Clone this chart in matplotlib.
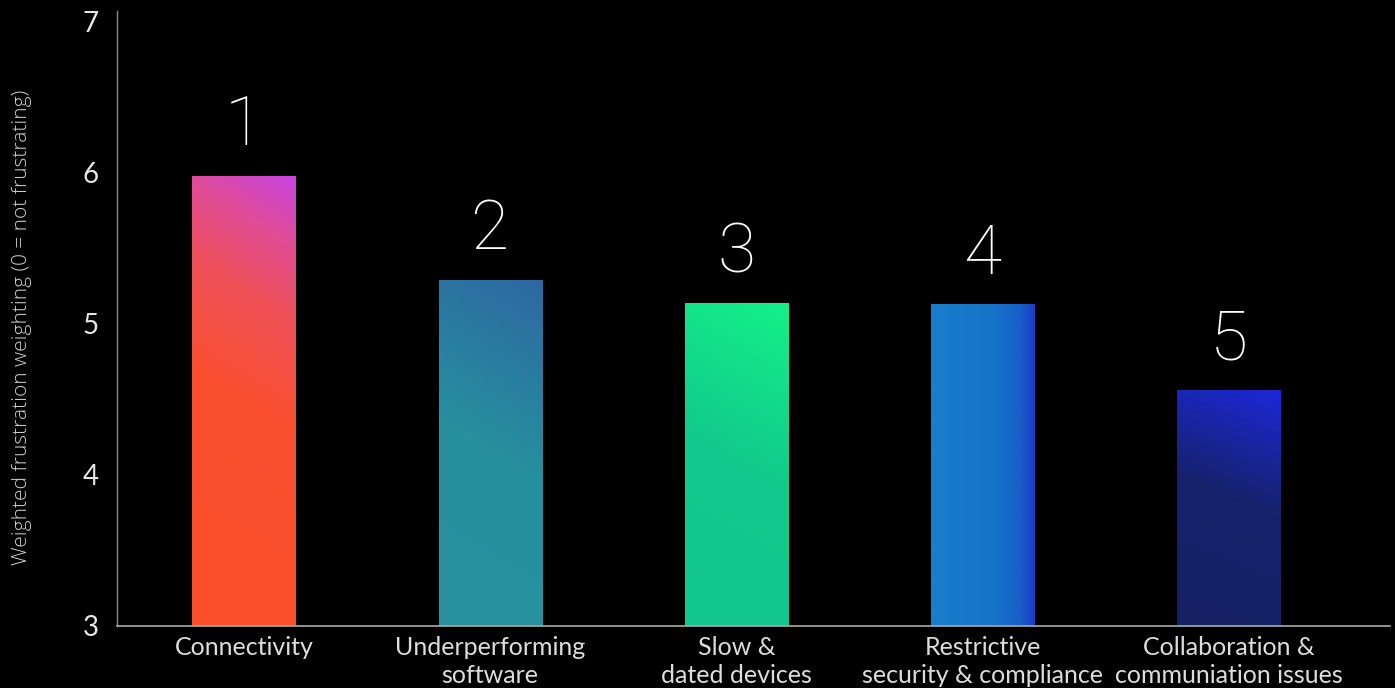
import numpy as np
import matplotlib.pyplot as plt
from matplotlib.colors import LinearSegmentedColormap

# Chart data
categories = ["Connectivity", "Underperforming\nsoftware", "Slow &\ndated devices",
              "Restrictive\nsecurity & compliance", "Collaboration &\ncommuniation issues"]
values = [5.98, 5.29, 5.14, 5.13, 4.56]
ranks = [1, 2, 3, 4, 5]
yticks = [3, 4, 5, 6, 7]
ylabel = "Weighted frustration weighting (0 = not frustrating)"

# Gradient styles per bar: (stops, weight of vertical, weight of horizontal)
gradients = [
    ([(0.0, "#fd512c"), (0.5, "#fb5030"), (0.72, "#ee5058"), (0.87, "#e04c98"), (1.0, "#c845e2")], 0.88, 0.12),
    ([(0.0, "#27929e"), (0.5, "#27909e"), (1.0, "#2d68a2")], 0.85, 0.15),
    ([(0.0, "#12c68e"), (0.5, "#12c98d"), (1.0, "#14f088")], 0.85, 0.15),
    ([(0.0, "#1a7ecc"), (0.6, "#1673c8"), (0.85, "#1662c8"), (1.0, "#1c3ec8")], 0.0, 1.0),
    ([(0.0, "#152163"), (0.55, "#16226c"), (1.0, "#1c28d8")], 0.85, 0.15),
]

plt.rcParams['font.family'] = ['Lato', 'DejaVu Sans']

fig = plt.figure(figsize=(13.95, 6.88), dpi=100, facecolor='black')
ax = fig.add_axes([117 / 1395, 1 - 626 / 688, 1273 / 1395, 615 / 688])
ax.set_facecolor('black')

x = np.arange(len(categories))
width = 0.42
bars = ax.bar(x, values, width=width, bottom=0, color='none', zorder=2)

# Fill each bar with its gradient, clipped to the bar shape
ny, nx = 200, 60
yy, xx = np.mgrid[0:1:ny * 1j, 0:1:nx * 1j]
for bar, (stops, wy, wx) in zip(bars, gradients):
    cmap = LinearSegmentedColormap.from_list("g", stops)
    s = wy * yy + wx * xx
    img = cmap(s)
    x0 = bar.get_x()
    x1 = x0 + bar.get_width()
    y1 = bar.get_height()
    im = ax.imshow(img, extent=(x0, x1, 3, y1), origin='lower', aspect='auto',
                   interpolation='bilinear', zorder=2)
    im.set_clip_path(bar)

for xi, v, r in zip(x, values, ranks):
    ax.annotate(str(r), (xi, v), xytext=(0, 22), textcoords='offset points',
                ha='center', va='baseline', fontsize=50, color='white',
                fontfamily=['Roboto', 'DejaVu Sans'], fontweight='light', zorder=3)

ax.set_xlim(-0.516, 4.655)
ax.set_ylim(3, 7.07)
ax.set_yticks(yticks)
ax.set_xticks(x)
ax.set_xticklabels(categories, fontsize=18, color='#dddddd', linespacing=1.3)
ax.tick_params(axis='y', length=0, pad=13, labelsize=20, labelcolor='#e6e6e6')
ax.tick_params(axis='x', length=0, pad=7)

for side in ['top', 'right']:
    ax.spines[side].set_visible(False)
ax.spines['left'].set_color('#8a8a8a')
ax.spines['bottom'].set_color('#aaaaaa')
ax.spines['left'].set_linewidth(1.0)
ax.spines['bottom'].set_linewidth(1.2)

fig.text(22 / 1395, 1 - 327 / 688, ylabel, rotation=90, ha='center', va='center',
         fontsize=15, color='#cfcfcf', fontfamily=['Open Sans', 'DejaVu Sans'],
         fontweight='light')

fig.savefig('out.png', dpi=100, facecolor='black')
